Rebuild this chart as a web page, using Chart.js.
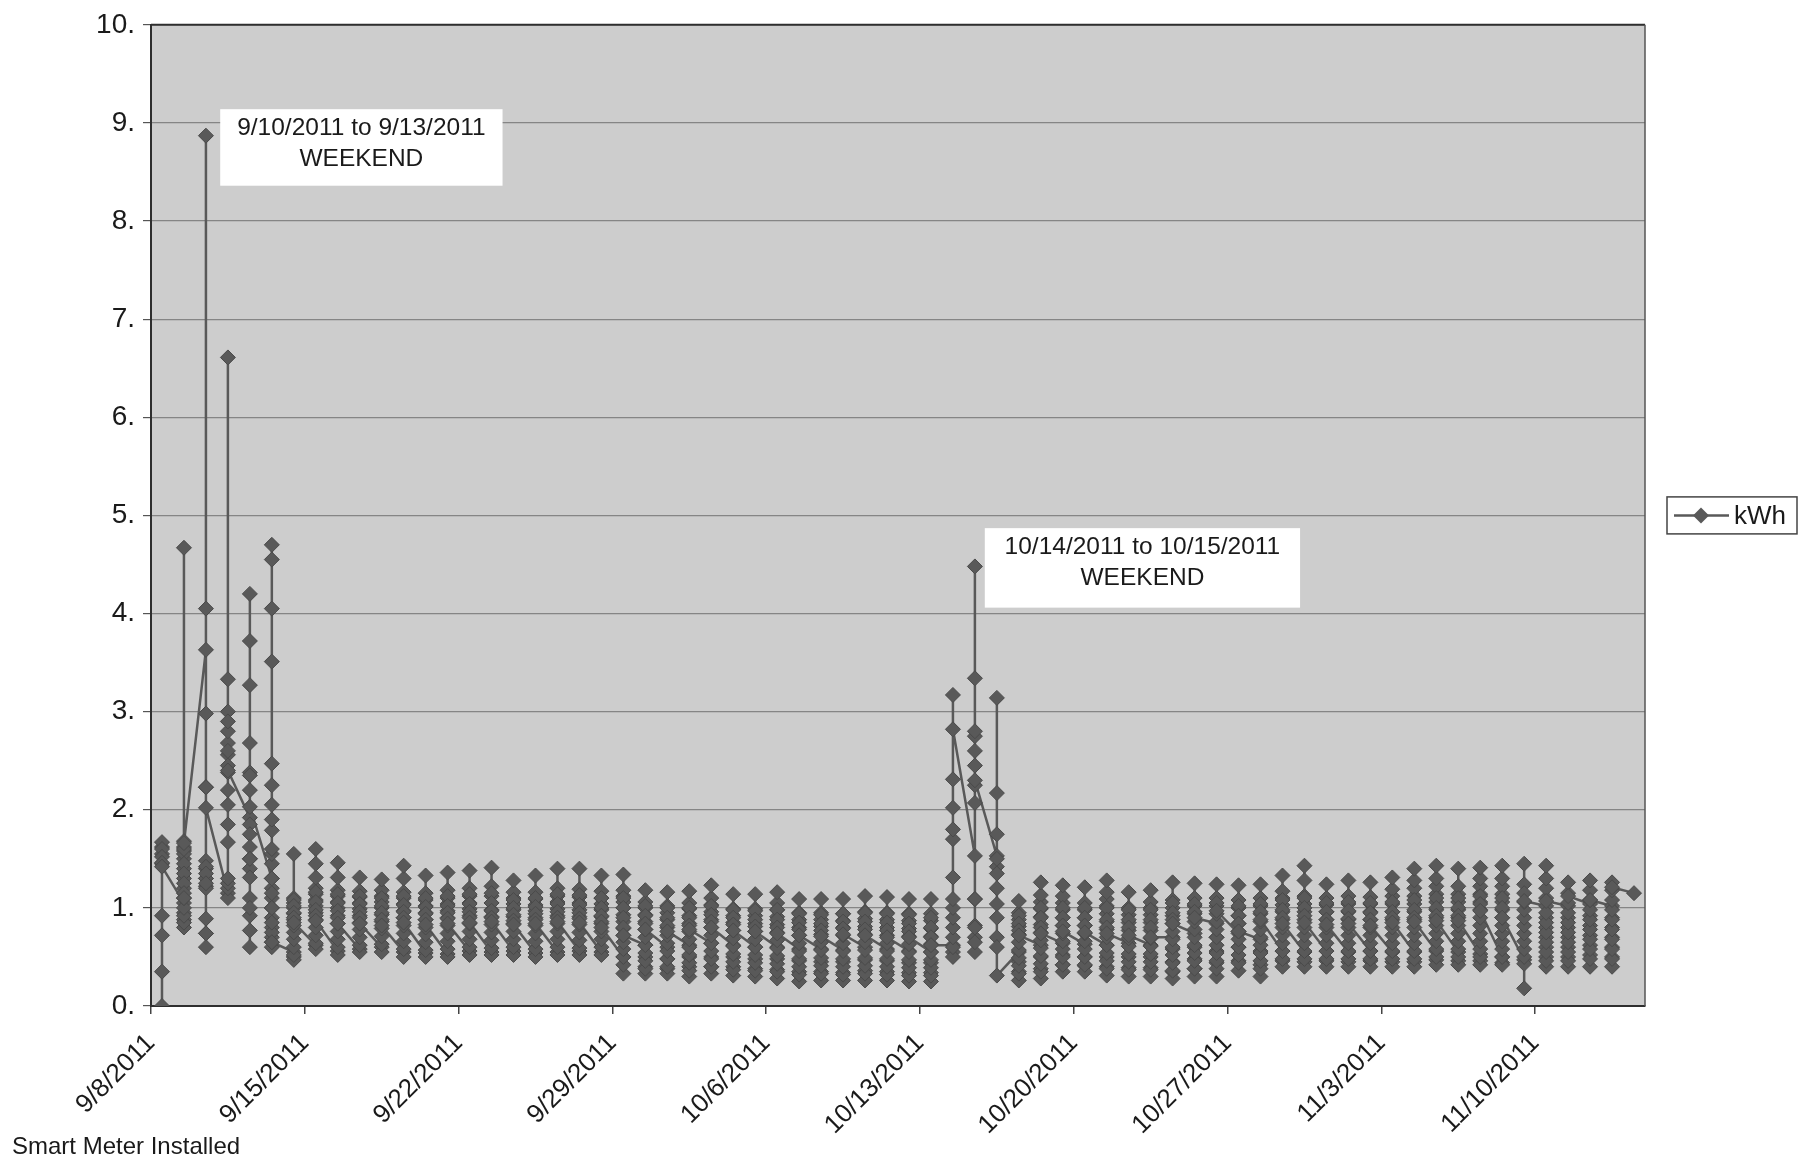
<!DOCTYPE html>
<html>
<head>
<meta charset="utf-8">
<script src="https://cdn.jsdelivr.net/npm/chart.js@4.4.1/dist/chart.umd.min.js"></script>
<style>
html,body{margin:0;padding:0;background:#ffffff;}
#wrap{position:relative;width:1806px;height:1164px;}
</style>
</head>
<body>
<div id="wrap"><canvas id="c"></canvas></div>
<script>
// ---------- data ----------
const seriesName = 'kWh';
const tickLabels = ['9/8/2011','9/15/2011','9/22/2011','9/29/2011','10/6/2011','10/13/2011','10/20/2011','10/27/2011','11/3/2011','11/10/2011'];
const yTickLabels = ['0.','1.','2.','3.','4.','5.','6.','7.','8.','9.','10.'];
const noteTexts = [['9/10/2011 to 9/13/2011','WEEKEND'],['10/14/2011 to 10/15/2011','WEEKEND']];
const footnote = 'Smart Meter Installed';

// hourly readings per day (kWh), one inner list per day starting 9/8/2011
const week0 = [
  [0, 0.35, 0.72, 0.92, 1.45, 1.55, 1.62, 1.67, 1.6, 1.52, 1.46, 1.42],
  [1.05, 0.95, 0.88, 0.8, 0.85, 0.92, 1.0, 1.1, 1.2, 1.3, 1.4, 1.5, 1.58, 4.67, 1.68, 1.62, 1.55, 1.45, 1.35, 1.25, 1.15, 1.1, 1.6, 1.66],
  [3.63, 2.98, 2.23, 1.48, 1.4, 1.3, 1.22, 0.89, 0.74, 0.6, 0.74, 1.2, 1.3, 1.42, 8.87, 4.05, 2.23, 1.35, 1.25, 2.02],
  [1.15, 1.1, 1.2, 1.25, 1.3, 1.67, 1.85, 2.05, 2.2, 2.38, 2.56, 2.68, 2.8, 3.0, 3.33, 6.61, 2.9, 2.6, 2.45, 2.4],
  [1.92, 1.85, 1.75, 1.62, 1.5, 1.4, 1.31, 1.1, 0.92, 0.77, 0.6, 1.0, 1.5, 2.2, 2.38, 2.68, 3.27, 3.72, 4.2, 2.35, 2.03],
  [1.3, 1.2, 1.1, 1.0, 0.9, 0.8, 0.7, 0.6, 0.65, 0.75, 0.85, 1.0, 1.15, 1.3, 1.45, 1.55, 1.79, 1.9, 2.05, 2.25, 2.47, 3.51, 4.05, 4.55, 4.7, 1.6, 0.65],
  [0.55, 0.5, 0.47, 0.52, 0.6, 0.68, 0.75, 0.82, 0.88, 0.94, 1.0, 1.05, 1.1, 1.55, 1.08, 1.02, 0.95, 0.9, 0.85]
];
const week1 = [
  [0.62, 0.58, 0.64, 0.72, 0.8, 0.88, 0.95, 1.02, 1.08, 1.14, 1.2, 1.31, 1.45, 1.6, 1.16, 1.06, 0.98, 0.92, 0.87],
  [0.56, 0.52, 0.6, 0.68, 0.76, 0.84, 0.92, 1.0, 1.06, 1.12, 1.18, 1.31, 1.46, 1.14, 1.05, 0.97, 0.9, 0.84],
  [0.58, 0.55, 0.62, 0.7, 0.78, 0.85, 0.92, 0.99, 1.05, 1.11, 1.17, 1.31, 1.12, 1.04, 0.96, 0.9, 0.84],
  [0.6, 0.55, 0.63, 0.71, 0.79, 0.86, 0.93, 1.0, 1.06, 1.12, 1.18, 1.29, 1.1, 1.02, 0.95, 0.88, 0.82],
  [0.55, 0.5, 0.58, 0.66, 0.74, 0.82, 0.9, 0.97, 1.04, 1.1, 1.16, 1.3, 1.43, 1.12, 1.03, 0.96, 0.9, 0.85],
  [0.54, 0.5, 0.57, 0.65, 0.73, 0.8, 0.88, 0.95, 1.02, 1.08, 1.15, 1.33, 1.1, 1.01, 0.94, 0.88, 0.83],
  [0.53, 0.5, 0.58, 0.66, 0.74, 0.82, 0.9, 0.97, 1.04, 1.1, 1.18, 1.36, 1.12, 1.02, 0.95, 0.89, 0.84]
];
const week2 = [
  [0.56, 0.52, 0.6, 0.68, 0.76, 0.84, 0.92, 0.99, 1.05, 1.12, 1.2, 1.38, 1.14, 1.04, 0.96, 0.9, 0.85],
  [0.55, 0.52, 0.59, 0.67, 0.75, 0.83, 0.91, 0.98, 1.05, 1.12, 1.22, 1.41, 1.15, 1.05, 0.97, 0.9, 0.86],
  [0.56, 0.52, 0.6, 0.68, 0.76, 0.84, 0.91, 0.98, 1.04, 1.1, 1.16, 1.28, 1.08, 1.0, 0.93, 0.87, 0.83],
  [0.54, 0.5, 0.58, 0.66, 0.74, 0.82, 0.9, 0.97, 1.03, 1.09, 1.16, 1.33, 1.1, 1.01, 0.94, 0.88, 0.84],
  [0.55, 0.52, 0.6, 0.68, 0.76, 0.84, 0.92, 0.99, 1.06, 1.12, 1.2, 1.4, 1.14, 1.04, 0.96, 0.9, 0.86],
  [0.56, 0.52, 0.59, 0.67, 0.75, 0.83, 0.91, 0.98, 1.05, 1.11, 1.19, 1.4, 1.13, 1.03, 0.95, 0.89, 0.85],
  [0.55, 0.52, 0.6, 0.68, 0.76, 0.84, 0.91, 0.98, 1.04, 1.1, 1.17, 1.33, 1.1, 1.0, 0.92, 0.86, 0.8]
];
const week3 = [
  [0.5, 0.33, 0.42, 0.5, 0.58, 0.65, 0.72, 0.79, 0.86, 0.93, 1.0, 1.06, 1.12, 1.18, 1.34, 1.1, 1.0, 0.9, 0.8, 0.72],
  [0.62, 0.5, 0.4, 0.33, 0.38, 0.46, 0.54, 0.62, 0.7, 0.78, 0.86, 0.93, 1.0, 1.06, 1.18, 1.02, 0.92, 0.84, 0.78],
  [0.6, 0.48, 0.38, 0.33, 0.4, 0.48, 0.56, 0.64, 0.72, 0.8, 0.88, 0.95, 1.02, 1.16, 1.0, 0.9, 0.82, 0.76],
  [0.62, 0.5, 0.4, 0.3, 0.36, 0.44, 0.52, 0.6, 0.68, 0.76, 0.84, 0.92, 0.99, 1.05, 1.17, 1.0, 0.9, 0.82, 0.78],
  [0.64, 0.5, 0.4, 0.33, 0.4, 0.48, 0.56, 0.64, 0.72, 0.8, 0.88, 0.96, 1.03, 1.1, 1.23, 1.02, 0.93, 0.86, 0.8],
  [0.62, 0.5, 0.4, 0.31, 0.37, 0.45, 0.53, 0.61, 0.69, 0.77, 0.85, 0.92, 0.99, 1.14, 0.98, 0.9, 0.83, 0.77],
  [0.6, 0.48, 0.38, 0.3, 0.36, 0.44, 0.52, 0.6, 0.68, 0.76, 0.84, 0.92, 0.99, 1.14, 0.97, 0.88, 0.81, 0.76]
];
const week4 = [
  [0.6, 0.48, 0.37, 0.28, 0.35, 0.43, 0.51, 0.59, 0.67, 0.75, 0.83, 0.91, 0.98, 1.05, 1.16, 0.98, 0.88, 0.8, 0.74],
  [0.58, 0.46, 0.35, 0.25, 0.32, 0.4, 0.48, 0.56, 0.64, 0.72, 0.8, 0.88, 0.95, 1.09, 0.94, 0.85, 0.78, 0.72],
  [0.58, 0.45, 0.35, 0.26, 0.33, 0.41, 0.49, 0.57, 0.65, 0.73, 0.81, 0.88, 0.95, 1.09, 0.93, 0.84, 0.77, 0.71],
  [0.57, 0.45, 0.34, 0.26, 0.32, 0.4, 0.48, 0.56, 0.64, 0.72, 0.8, 0.87, 0.94, 1.09, 0.94, 0.86, 0.79, 0.73],
  [0.6, 0.47, 0.36, 0.26, 0.33, 0.41, 0.49, 0.57, 0.65, 0.73, 0.81, 0.89, 0.96, 1.12, 0.95, 0.86, 0.78, 0.72],
  [0.58, 0.46, 0.35, 0.26, 0.32, 0.4, 0.48, 0.56, 0.64, 0.72, 0.8, 0.88, 0.95, 1.11, 0.94, 0.85, 0.77, 0.7],
  [0.56, 0.44, 0.34, 0.25, 0.31, 0.39, 0.47, 0.55, 0.63, 0.71, 0.79, 0.87, 0.94, 1.09, 0.93, 0.84, 0.76, 0.7]
];
const week5 = [
  [0.55, 0.44, 0.34, 0.25, 0.31, 0.39, 0.47, 0.55, 0.63, 0.71, 0.79, 0.87, 0.94, 1.09, 0.9, 0.8, 0.7, 0.62],
  [0.62, 0.55, 0.5, 0.6, 0.7, 0.8, 0.9, 1.0, 1.09, 1.31, 1.7, 1.8, 2.02, 2.31, 3.17, 2.82],
  [1.53, 1.09, 0.82, 0.7, 0.55, 0.65, 0.8, 1.09, 2.07, 2.25, 2.45, 2.6, 2.75, 2.8, 3.34, 4.48, 2.3],
  [1.53, 1.42, 1.35, 1.04, 0.7, 0.6, 0.9, 1.75, 2.17, 3.14, 1.5, 1.2, 0.31],
  [0.55, 0.45, 0.35, 0.26, 0.33, 0.41, 0.49, 0.57, 0.65, 0.73, 0.81, 0.88, 0.95, 1.07, 0.92, 0.84, 0.77, 0.72],
  [0.62, 0.5, 0.38, 0.28, 0.35, 0.43, 0.51, 0.59, 0.67, 0.75, 0.83, 0.91, 0.99, 1.06, 1.13, 1.26, 1.0, 0.9, 0.8, 0.74],
  [0.64, 0.52, 0.42, 0.35, 0.42, 0.5, 0.58, 0.66, 0.74, 0.82, 0.9, 0.98, 1.05, 1.12, 1.23, 1.0, 0.9, 0.82, 0.76]
];
const week6 = [
  [0.63, 0.5, 0.41, 0.35, 0.42, 0.5, 0.58, 0.66, 0.74, 0.82, 0.9, 0.98, 1.05, 1.21, 1.0, 0.9, 0.82, 0.75],
  [0.62, 0.5, 0.4, 0.31, 0.38, 0.46, 0.54, 0.62, 0.7, 0.78, 0.86, 0.94, 1.02, 1.09, 1.16, 1.28, 1.0, 0.88, 0.8, 0.74],
  [0.64, 0.5, 0.39, 0.3, 0.37, 0.45, 0.53, 0.61, 0.69, 0.77, 0.85, 0.93, 1.0, 1.16, 0.98, 0.88, 0.8, 0.72],
  [0.62, 0.5, 0.39, 0.3, 0.37, 0.45, 0.53, 0.61, 0.69, 0.77, 0.85, 0.93, 1.0, 1.06, 1.18, 0.98, 0.88, 0.8, 0.7],
  [0.7, 0.58, 0.45, 0.35, 0.28, 0.36, 0.44, 0.52, 0.6, 0.68, 0.76, 0.84, 0.92, 1.0, 1.08, 1.26, 1.05, 0.95, 0.88, 0.84],
  [0.74, 0.6, 0.48, 0.38, 0.3, 0.38, 0.46, 0.54, 0.62, 0.7, 0.78, 0.86, 0.94, 1.02, 1.1, 1.25, 1.04, 0.96, 0.9],
  [0.84, 0.7, 0.56, 0.44, 0.3, 0.38, 0.46, 0.54, 0.62, 0.7, 0.78, 0.86, 0.94, 1.02, 1.1, 1.24, 1.05, 0.97]
];
const week7 = [
  [0.74, 0.6, 0.46, 0.36, 0.44, 0.52, 0.6, 0.68, 0.76, 0.84, 0.92, 1.0, 1.08, 1.23, 1.02, 0.92, 0.84, 0.76],
  [0.68, 0.56, 0.42, 0.3, 0.38, 0.46, 0.54, 0.62, 0.7, 0.78, 0.86, 0.94, 1.02, 1.1, 1.24, 1.04, 0.96, 0.88],
  [0.56, 0.46, 0.4, 0.48, 0.56, 0.64, 0.72, 0.8, 0.88, 0.96, 1.03, 1.1, 1.17, 1.33, 1.08, 0.98, 0.9, 0.84],
  [0.55, 0.45, 0.4, 0.48, 0.56, 0.64, 0.72, 0.8, 0.88, 0.96, 1.04, 1.12, 1.28, 1.43, 1.1, 1.0, 0.92, 0.85],
  [0.56, 0.46, 0.4, 0.48, 0.56, 0.64, 0.72, 0.8, 0.88, 0.96, 1.03, 1.1, 1.24, 1.05, 0.96, 0.88, 0.83],
  [0.55, 0.45, 0.4, 0.48, 0.56, 0.64, 0.72, 0.8, 0.88, 0.96, 1.04, 1.12, 1.28, 1.06, 0.97, 0.89, 0.84],
  [0.56, 0.46, 0.4, 0.48, 0.56, 0.64, 0.72, 0.8, 0.88, 0.96, 1.04, 1.11, 1.26, 1.05, 0.95, 0.88, 0.82]
];
const week8 = [
  [0.55, 0.45, 0.4, 0.48, 0.56, 0.64, 0.72, 0.8, 0.88, 0.96, 1.04, 1.12, 1.19, 1.31, 1.06, 0.96, 0.9, 0.85],
  [0.55, 0.45, 0.4, 0.48, 0.56, 0.64, 0.72, 0.8, 0.88, 0.96, 1.04, 1.12, 1.2, 1.28, 1.4, 1.08, 0.98, 0.9, 0.86],
  [0.56, 0.47, 0.42, 0.5, 0.58, 0.66, 0.74, 0.82, 0.9, 0.98, 1.06, 1.14, 1.22, 1.3, 1.43, 1.1, 1.0, 0.92, 0.87],
  [0.55, 0.46, 0.42, 0.5, 0.58, 0.66, 0.74, 0.82, 0.9, 0.98, 1.06, 1.14, 1.22, 1.4, 1.1, 1.0, 0.92, 0.87],
  [0.53, 0.46, 0.42, 0.5, 0.58, 0.66, 0.74, 0.82, 0.9, 0.98, 1.06, 1.14, 1.22, 1.3, 1.41, 1.12, 1.04, 0.97],
  [0.5, 0.44, 0.42, 0.5, 0.58, 0.66, 0.74, 0.82, 0.9, 0.98, 1.06, 1.14, 1.22, 1.3, 1.43, 1.1, 1.0, 0.9],
  [0.47, 0.43, 0.18, 0.5, 0.58, 0.66, 0.74, 0.82, 0.9, 0.98, 1.06, 1.24, 1.45, 1.15, 1.07]
];
const week9 = [
  [1.02, 0.9, 0.8, 0.7, 0.6, 0.5, 0.4, 0.46, 0.55, 0.65, 0.75, 0.85, 0.95, 1.1, 1.2, 1.3, 1.43, 1.07],
  [1.02, 0.9, 0.8, 0.7, 0.6, 0.5, 0.4, 0.46, 0.55, 0.65, 0.75, 0.85, 0.95, 1.05, 1.15, 1.26, 1.12],
  [1.04, 0.92, 0.82, 0.72, 0.62, 0.52, 0.4, 0.48, 0.58, 0.68, 0.78, 0.88, 0.98, 1.08, 1.18, 1.28, 1.08],
  [1.02, 0.9, 0.8, 0.7, 0.6, 0.5, 0.4, 0.48, 0.58, 0.68, 0.78, 0.88, 0.98, 1.08, 1.18, 1.26, 1.21],
  [1.15]
];

// ---------- build ----------
const days = [].concat(week0, week1, week2, week3, week4, week5, week6, week7, week8, week9);
const points = [];
days.forEach((vals, d) => vals.forEach(v => points.push({x: d + 0.5, y: v})));
const DAYS_SPAN = 68;

const FONT = '"Liberation Sans", Arial, Helvetica, sans-serif';
const INK = '#1a1a1a';
const MARK = '#595959';

// annotation boxes in data units
const noteBoxes = [
  {x0: 3.15, x1: 16.0, y0: 9.14, y1: 8.36},
  {x0: 37.95, x1: 52.3, y0: 4.87, y1: 4.06}
];

const decorPlugin = {
  id: 'decor',
  beforeDraw(chart) {
    const {ctx, chartArea: a} = chart;
    ctx.save();
    ctx.fillStyle = '#cdcdcd';
    ctx.fillRect(a.left, a.top, a.right - a.left, a.bottom - a.top);
    ctx.restore();
  },
  afterDatasetsDraw(chart) {
    const {ctx, chartArea: a} = chart;
    const xs = chart.scales.x, ys = chart.scales.y;
    ctx.save();
    // frame
    ctx.strokeStyle = '#2e2e2e';
    ctx.lineWidth = 2;
    ctx.beginPath();
    ctx.moveTo(a.left, a.top); ctx.lineTo(a.right, a.top);
    ctx.stroke();
    ctx.strokeStyle = '#555';
    ctx.lineWidth = 1.5;
    ctx.beginPath();
    ctx.moveTo(a.right, a.top); ctx.lineTo(a.right, a.bottom);
    ctx.stroke();

    // notes
    ctx.font = '24.5px ' + FONT;
    ctx.textAlign = 'center';
    ctx.textBaseline = 'middle';
    noteBoxes.forEach((b, i) => {
      const l = xs.getPixelForValue(b.x0), r = xs.getPixelForValue(b.x1);
      const t = ys.getPixelForValue(b.y0), bt = ys.getPixelForValue(b.y1);
      ctx.fillStyle = '#ffffff';
      ctx.fillRect(l, t, r - l, bt - t);
      ctx.fillStyle = INK;
      const cx = (l + r) / 2;
      ctx.fillText(noteTexts[i][0], cx, t + 19);
      ctx.fillText(noteTexts[i][1], cx, t + 50);
    });

    // legend
    const lw = 130, lh = 37;
    const lx = a.right + 22, ly = (a.top + a.bottom) / 2 - lh / 2;
    ctx.fillStyle = '#ffffff';
    ctx.fillRect(lx, ly, lw, lh);
    ctx.strokeStyle = '#444';
    ctx.lineWidth = 1.5;
    ctx.strokeRect(lx, ly, lw, lh);
    const my = ly + lh / 2;
    ctx.strokeStyle = MARK;
    ctx.lineWidth = 2.5;
    ctx.beginPath();
    ctx.moveTo(lx + 7, my); ctx.lineTo(lx + 62, my);
    ctx.stroke();
    ctx.fillStyle = MARK;
    ctx.beginPath();
    ctx.moveTo(lx + 34, my - 8); ctx.lineTo(lx + 42, my); ctx.lineTo(lx + 34, my + 8); ctx.lineTo(lx + 26, my);
    ctx.closePath(); ctx.fill();
    ctx.fillStyle = INK;
    ctx.font = '26px ' + FONT;
    ctx.textAlign = 'left';
    ctx.fillText(seriesName, lx + 67, my + 1);

    // footnote
    ctx.font = '24px ' + FONT;
    ctx.textAlign = 'left';
    ctx.textBaseline = 'middle';
    ctx.fillText(footnote, 12, 1147);
    ctx.restore();
  }
};

new Chart(document.getElementById('c'), {
  type: 'line',
  data: {
    datasets: [{
      label: seriesName,
      data: points,
      borderColor: MARK,
      borderWidth: 2.5,
      pointStyle: 'rectRot',
      pointRadius: 7.5,
      pointBackgroundColor: MARK,
      pointBorderColor: '#4a4a4a',
      pointBorderWidth: 1,
      tension: 0,
      fill: false
    }]
  },
  options: {
    responsive: true,
    maintainAspectRatio: false,
    animation: false,
    layout: {padding: {left: 0, right: 161, top: 20, bottom: 0}},
    plugins: {legend: {display: false}, tooltip: {enabled: false}},
    scales: {
      x: {
        type: 'linear',
        min: 0,
        max: DAYS_SPAN,
        afterBuildTicks(scale) { scale.ticks = tickLabels.map((t, i) => ({value: i * 7})); },
        afterFit(scale) { scale.height = 158; },
        ticks: {
          autoSkip: false,
          minRotation: 45,
          maxRotation: 45,
          padding: 14,
          color: INK,
          font: {family: FONT, size: 26},
          callback: (v, i) => tickLabels[i]
        },
        grid: {drawOnChartArea: false, drawTicks: true, tickLength: 8, color: '#444', lineWidth: 1.5},
        border: {display: true, color: '#2e2e2e', width: 2}
      },
      y: {
        min: 0,
        max: 10,
        afterBuildTicks(scale) { scale.ticks = yTickLabels.map((t, i) => ({value: i})); },
        afterFit(scale) { scale.width = 151; },
        ticks: {
          padding: 8,
          color: INK,
          font: {family: FONT, size: 28},
          callback: (v, i) => yTickLabels[i]
        },
        grid: {color: '#858585', lineWidth: 1.2, tickLength: 8, tickColor: '#555'},
        border: {display: true, color: '#2e2e2e', width: 2}
      }
    }
  },
  plugins: [decorPlugin]
});
</script>
</body>
</html>
